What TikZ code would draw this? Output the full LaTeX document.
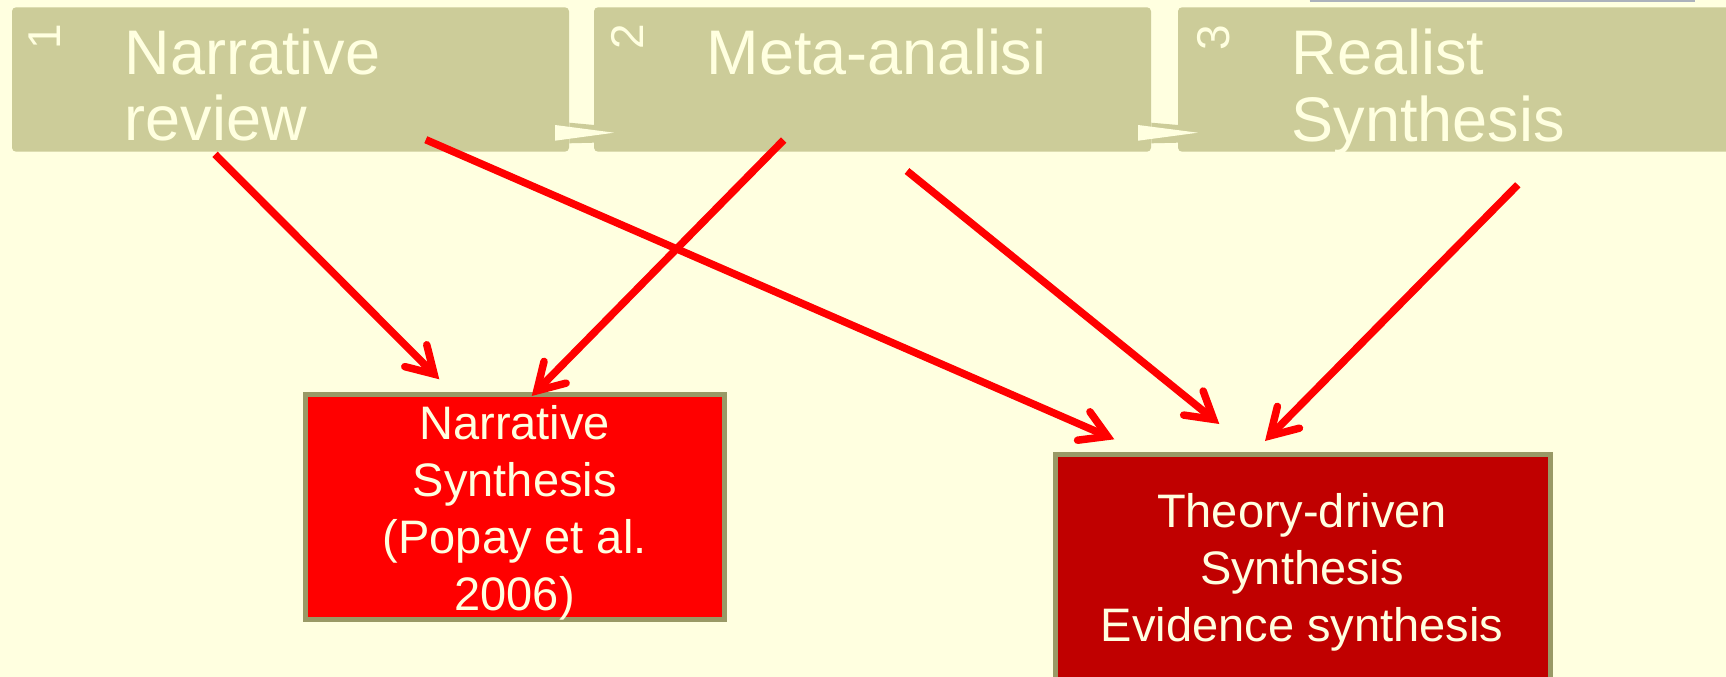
\documentclass[tikz,border=0pt]{standalone}
\usepackage{fontspec}
\setmainfont{Liberation Sans}
\usetikzlibrary{arrows.meta}
\definecolor{bgc}{RGB}{255,255,224}
\definecolor{khaki}{RGB}{204,204,153}
\definecolor{creamtxt}{RGB}{255,255,224}
\definecolor{olivebd}{RGB}{153,153,102}
\definecolor{brightred}{RGB}{255,0,0}
\definecolor{deepred}{RGB}{192,0,0}
\definecolor{topline}{RGB}{172,178,188}
\tikzset{
  topbox/.style={draw=none, fill=khaki, rounded corners=4pt, minimum width=557pt, minimum height=144.4pt, inner sep=0pt},
  toptext/.style={text=creamtxt, font=\fontsize{63}{66.7}\selectfont, align=left, inner sep=0pt, anchor=north west},
  numtext/.style={text=creamtxt, font=\fontsize{46}{50}\selectfont, inner sep=0pt, rotate=90},
  resultbox/.style={draw=olivebd, line width=5pt, inner sep=0pt},
  resulttext/.style={text=creamtxt, font=\fontsize{47}{57}\selectfont, align=center, inner sep=0pt, anchor=north},
  redarrow/.style={draw=brightred, line width=7.5pt,
    -{Straight Barb[length=26pt, width=31pt, line cap=round, line join=miter]}},
}
\begin{document}
\begin{tikzpicture}[x=1pt, y=-1pt]
\useasboundingbox (0,0) rectangle (1726,677);
\fill[bgc] (0,0) rectangle (1726,677);
% top gray line
\draw[topline, line width=2.5pt] (1309.6,1) -- (1694.8,1);
% step boxes
\node[topbox] (b1) at (290.5,79.5) {};
\node[topbox] (b2) at (872.5,79.5) {};
\node[topbox] (b3) at (1456.5,79.5) {};
% chevrons between boxes
\fill[khaki] (569.3,122.7) -- (594,125) -- (594,142.7) -- (569.3,143.3) -- cycle;
\fill[bgc] (555,125) -- (614,132.7) -- (555,140.7) -- cycle;
\fill[khaki] (1151.3,122.7) -- (1178,125) -- (1178,142.7) -- (1151.3,143.3) -- cycle;
\fill[bgc] (1138,125) -- (1197.8,132.7) -- (1138,140.7) -- cycle;
% numbers
\node[numtext] (n1) at (44.5,37) {1};
\node[numtext] (n2) at (627.3,37) {2};
\node[numtext] (n3) at (1213.5,38) {3};
% step texts
\node[toptext] (t1) at (124.5,28.3) {Narrative\\review};
\node[toptext] (t2) at (706.7,28.8) {Meta-analisi};
\node[toptext] (t3) at (1291.6,28.8) {Realist\\Synthesis};
% result boxes
\node[resultbox, fill=brightred, minimum width=419pt, minimum height=225pt] (ns) at (514.7,506.7) {};
\node[resultbox, fill=deepred, minimum width=495pt, minimum height=266pt] (td) at (1302.5,587.2) {};
% arrows
\coordinate (a1s) at (215,154.3);   \coordinate (a1e) at (439.3,379.3);
\coordinate (a2s) at (783.7,140);   \coordinate (a2e) at (531.7,396);
\coordinate (a3s) at (425.8,139.7); \coordinate (a3e) at (1114.3,439.3);
\coordinate (a4s) at (907,171);     \coordinate (a4e) at (1219.3,424);
\coordinate (a5s) at (1517.8,184.8);\coordinate (a5e) at (1265,441);
\draw[redarrow] (a1s) -- (a1e);
\draw[redarrow] (a2s) -- (a2e);
\draw[redarrow] (a3s) -- (a3e);
\draw[redarrow] (a4s) -- (a4e);
\draw[redarrow] (a5s) -- (a5e);
% result texts
\node[resulttext] (nst) at (514.7,405.3) {Narrative\\Synthesis\\(Popay et al.\\2006)};
\node[resulttext] (tdt) at (1302,493) {Theory-driven\\Synthesis\\Evidence synthesis};
\end{tikzpicture}
\end{document}
